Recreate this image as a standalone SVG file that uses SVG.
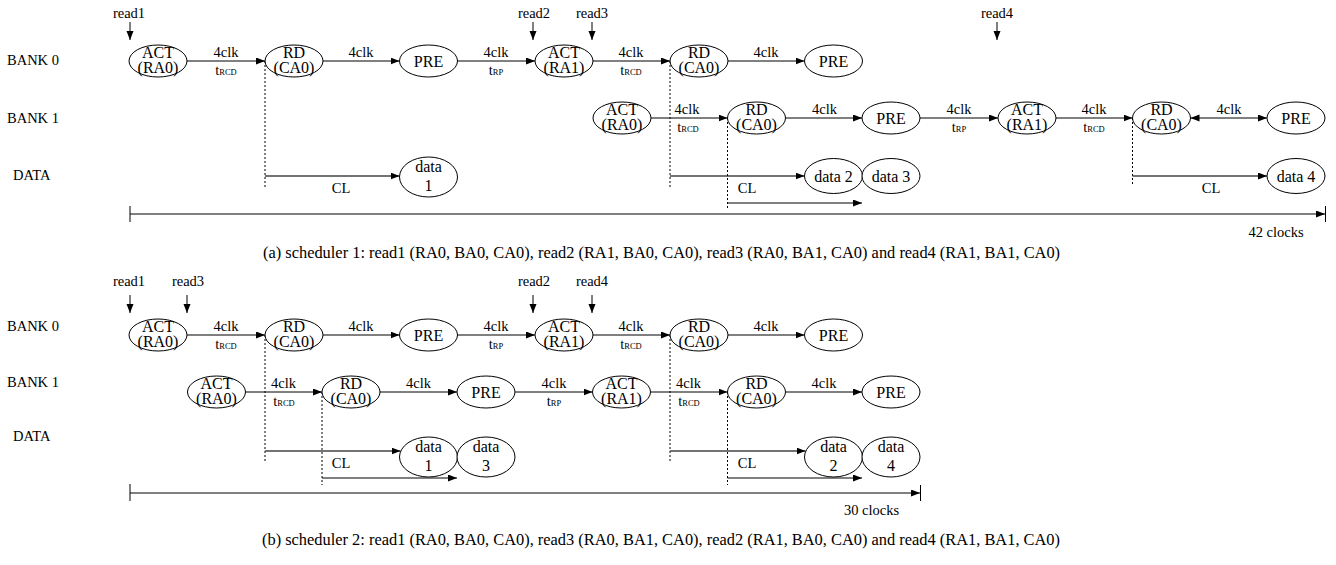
<svg xmlns="http://www.w3.org/2000/svg" width="1336" height="565" viewBox="0 0 1336 565">
<style>
text{font-family:"Liberation Serif","Times New Roman",serif;font-size:14.5px;fill:#000}
.m{text-anchor:middle}
.s{font-size:8.5px}
.cap{font-size:16.4px}
.nd text{font-size:16px}
ellipse{fill:#fff;stroke:#000;stroke-width:1}
.c line{stroke:#000;stroke-width:1;fill:none}
.c .a{marker-end:url(#ah)}
.c .d{stroke-dasharray:2,2}
.c .g{stroke:#444;stroke-width:1.3}
.c .b{marker-start:url(#ah);marker-end:url(#ah)}
</style>
<defs>
<marker id="ah" markerUnits="userSpaceOnUse" markerWidth="10" markerHeight="8" refX="9" refY="3.5" orient="auto-start-reverse"><path d="M0,0 L9,3.5 L0,7 z" fill="#000"/></marker>
</defs>
<rect width="1336" height="565" fill="#fff"/>

<!-- ===== (a) ===== -->
<g id="a-labels">
<text x="7" y="65">BANK 0</text>
<text x="7" y="123">BANK 1</text>
<text x="13" y="180">DATA</text>
<text class="m" x="129" y="18">read1</text>
<text class="m" x="534" y="18">read2</text>
<text class="m" x="592" y="18">read3</text>
<text class="m" x="997" y="18">read4</text>
<text class="m" x="1276" y="237">42 clocks</text>
<text class="cap" x="263" y="258">(a) scheduler 1: read1 (RA0, BA0, CA0), read2 (RA1, BA0, CA0), read3 (RA0, BA1, CA0) and read4 (RA1, BA1, CA0)</text>
</g>

<g id="a-connectors" class="c">
<line class="a" x1="130" y1="22" x2="130" y2="40"/>
<line class="a" x1="533" y1="22" x2="533" y2="40"/>
<line class="a" x1="592" y1="22" x2="592" y2="40"/>
<line class="a" x1="997" y1="22" x2="997" y2="40"/>
<!-- bank0 -->
<line class="a" x1="187" y1="61" x2="265" y2="61"/>
<line class="a" x1="323" y1="61" x2="399.5" y2="61"/>
<line class="a" x1="457.5" y1="61" x2="535" y2="61"/>
<line class="a" x1="593" y1="61" x2="670" y2="61"/>
<line class="a" x1="728" y1="61" x2="804.5" y2="61"/>
<!-- bank1 -->
<line class="a" x1="651" y1="118" x2="727.5" y2="118"/>
<line class="a" x1="785.5" y1="118" x2="862" y2="118"/>
<line class="a" x1="920" y1="118" x2="998" y2="118"/>
<line class="a" x1="1056" y1="118" x2="1132.5" y2="118"/>
<line class="b" x1="1190.5" y1="118" x2="1267" y2="118"/>
<!-- data -->
<line class="d" x1="265" y1="61" x2="265" y2="188"/>
<line class="a g" x1="265" y1="176" x2="399.5" y2="176"/>
<line class="d" x1="670" y1="61" x2="670" y2="187"/>
<line class="a g" x1="670" y1="176" x2="804.5" y2="176"/>
<line class="d" x1="727.5" y1="118" x2="727.5" y2="208"/>
<line class="a" x1="727.5" y1="203" x2="862" y2="203"/>
<line class="d" x1="1132.5" y1="118" x2="1132.5" y2="185"/>
<line class="a g" x1="1132.5" y1="176" x2="1267" y2="176"/>
<!-- timeline -->
<line class="a" x1="130" y1="214" x2="1325" y2="214"/>
<line x1="130" y1="206" x2="130" y2="222"/>
<line x1="1325.5" y1="206" x2="1325.5" y2="222"/>
</g>

<g id="a-connector-labels">
<text class="m" x="226" y="57">4clk</text><text class="m" x="226" y="75">t<tspan class="s">RCD</tspan></text>
<text class="m" x="361" y="57">4clk</text>
<text class="m" x="496" y="57">4clk</text><text class="m" x="496" y="75">t<tspan class="s">RP</tspan></text>
<text class="m" x="631" y="57">4clk</text><text class="m" x="631" y="75">t<tspan class="s">RCD</tspan></text>
<text class="m" x="766" y="57">4clk</text>
<text class="m" x="687" y="114">4clk</text><text class="m" x="688" y="132">t<tspan class="s">RCD</tspan></text>
<text class="m" x="824.5" y="114">4clk</text>
<text class="m" x="959" y="114">4clk</text><text class="m" x="959" y="132">t<tspan class="s">RP</tspan></text>
<text class="m" x="1094" y="114">4clk</text><text class="m" x="1094" y="132">t<tspan class="s">RCD</tspan></text>
<text class="m" x="1229" y="114">4clk</text>
<text class="m" x="341" y="193">CL</text>
<text class="m" x="747" y="193">CL</text>
<text class="m" x="1211" y="193">CL</text>
</g>

<g id="a-b0-act0" class="nd"><ellipse cx="158" cy="61" rx="29" ry="16"/><text class="m" x="158" y="58">ACT</text><text class="m" x="158" y="73">(RA0)</text></g>
<g id="a-b0-rd0" class="nd"><ellipse cx="294" cy="61" rx="29" ry="16"/><text class="m" x="294" y="58">RD</text><text class="m" x="294" y="73">(CA0)</text></g>
<g id="a-b0-pre0" class="nd"><ellipse cx="428.5" cy="61" rx="29" ry="16"/><text class="m" x="428.5" y="66.5">PRE</text></g>
<g id="a-b0-act1" class="nd"><ellipse cx="564" cy="61" rx="29" ry="16"/><text class="m" x="564" y="58">ACT</text><text class="m" x="564" y="73">(RA1)</text></g>
<g id="a-b0-rd1" class="nd"><ellipse cx="699" cy="61" rx="29" ry="16"/><text class="m" x="699" y="58">RD</text><text class="m" x="699" y="73">(CA0)</text></g>
<g id="a-b0-pre1" class="nd"><ellipse cx="833.5" cy="61" rx="29" ry="16"/><text class="m" x="833.5" y="66.5">PRE</text></g>

<g id="a-b1-act0" class="nd"><ellipse cx="622" cy="118" rx="29" ry="16"/><text class="m" x="622" y="115">ACT</text><text class="m" x="622" y="130">(RA0)</text></g>
<g id="a-b1-rd0" class="nd"><ellipse cx="756.5" cy="118" rx="29" ry="16"/><text class="m" x="756.5" y="115">RD</text><text class="m" x="756.5" y="130">(CA0)</text></g>
<g id="a-b1-pre0" class="nd"><ellipse cx="891" cy="118" rx="29" ry="16"/><text class="m" x="891" y="123.5">PRE</text></g>
<g id="a-b1-act1" class="nd"><ellipse cx="1027" cy="118" rx="29" ry="16"/><text class="m" x="1027" y="115">ACT</text><text class="m" x="1027" y="130">(RA1)</text></g>
<g id="a-b1-rd1" class="nd"><ellipse cx="1161.5" cy="118" rx="29" ry="16"/><text class="m" x="1161.5" y="115">RD</text><text class="m" x="1161.5" y="130">(CA0)</text></g>
<g id="a-b1-pre1" class="nd"><ellipse cx="1296" cy="118" rx="29" ry="16"/><text class="m" x="1296" y="123.5">PRE</text></g>

<g id="a-data1" class="nd"><ellipse cx="428.5" cy="177" rx="29" ry="20"/><text class="m" x="428.5" y="171.5">data</text><text class="m" x="428.5" y="191">1</text></g>
<g id="a-data2" class="nd"><ellipse cx="833.5" cy="176" rx="29" ry="17.5"/><text class="m" x="833.5" y="181.5">data 2</text></g>
<g id="a-data3" class="nd"><ellipse cx="891" cy="176" rx="29" ry="17.5"/><text class="m" x="891" y="181.5">data 3</text></g>
<g id="a-data4" class="nd"><ellipse cx="1296" cy="176" rx="29" ry="17.5"/><text class="m" x="1296" y="181.5">data 4</text></g>

<!-- ===== (b) ===== -->
<g id="b-labels">
<text x="7" y="331">BANK 0</text>
<text x="7" y="387">BANK 1</text>
<text x="13" y="440.5">DATA</text>
<text class="m" x="129" y="286">read1</text>
<text class="m" x="188" y="286">read3</text>
<text class="m" x="534" y="286">read2</text>
<text class="m" x="592" y="286">read4</text>
<text class="m" x="871.5" y="515">30 clocks</text>
<text class="cap" x="262" y="545">(b) scheduler 2: read1 (RA0, BA0, CA0), read3 (RA0, BA1, CA0), read2 (RA1, BA0, CA0) and read4 (RA1, BA1, CA0)</text>
</g>

<g id="b-connectors" class="c">
<line class="a" x1="130" y1="295" x2="130" y2="313"/>
<line class="a" x1="187" y1="295" x2="187" y2="313"/>
<line class="a" x1="533" y1="295" x2="533" y2="313"/>
<line class="a" x1="592" y1="295" x2="592" y2="313"/>
<!-- bank0 -->
<line class="a" x1="187" y1="335" x2="265" y2="335"/>
<line class="a" x1="323" y1="335" x2="399.5" y2="335"/>
<line class="a" x1="457.5" y1="335" x2="535" y2="335"/>
<line class="a" x1="593" y1="335" x2="670" y2="335"/>
<line class="a" x1="728" y1="335" x2="804.5" y2="335"/>
<!-- bank1 -->
<line class="a" x1="245.5" y1="392" x2="322" y2="392"/>
<line class="a" x1="380" y1="392" x2="457" y2="392"/>
<line class="a" x1="515" y1="392" x2="592.5" y2="392"/>
<line class="a" x1="650.5" y1="392" x2="727.5" y2="392"/>
<line class="a" x1="785.5" y1="392" x2="862" y2="392"/>
<!-- data -->
<line class="d" x1="265" y1="335" x2="265" y2="462"/>
<line class="a g" x1="265" y1="451" x2="400.5" y2="451"/>
<line class="d" x1="322" y1="392" x2="322" y2="485"/>
<line class="a" x1="322" y1="478" x2="457" y2="478"/>
<line class="d" x1="670" y1="335" x2="670" y2="462"/>
<line class="a g" x1="670" y1="451" x2="805.5" y2="451"/>
<line class="d" x1="727.5" y1="392" x2="727.5" y2="485"/>
<line class="a" x1="727.5" y1="478" x2="862" y2="478"/>
<!-- timeline -->
<line class="a" x1="130" y1="493" x2="920" y2="493"/>
<line x1="130" y1="484" x2="130" y2="501"/>
<line x1="920.5" y1="485" x2="920.5" y2="501"/>
</g>

<g id="b-connector-labels">
<text class="m" x="226" y="331">4clk</text><text class="m" x="226" y="349">t<tspan class="s">RCD</tspan></text>
<text class="m" x="361" y="331">4clk</text>
<text class="m" x="496" y="331">4clk</text><text class="m" x="496" y="349">t<tspan class="s">RP</tspan></text>
<text class="m" x="631" y="331">4clk</text><text class="m" x="631" y="349">t<tspan class="s">RCD</tspan></text>
<text class="m" x="766" y="331">4clk</text>
<text class="m" x="283.5" y="388">4clk</text><text class="m" x="284" y="406">t<tspan class="s">RCD</tspan></text>
<text class="m" x="418.5" y="388">4clk</text>
<text class="m" x="554" y="388">4clk</text><text class="m" x="554" y="406">t<tspan class="s">RP</tspan></text>
<text class="m" x="688.5" y="388">4clk</text><text class="m" x="689" y="406">t<tspan class="s">RCD</tspan></text>
<text class="m" x="824" y="388">4clk</text>
<text class="m" x="341" y="468">CL</text>
<text class="m" x="747" y="468">CL</text>
</g>

<g id="b-b0-act0" class="nd"><ellipse cx="158" cy="335" rx="29" ry="16"/><text class="m" x="158" y="332">ACT</text><text class="m" x="158" y="347">(RA0)</text></g>
<g id="b-b0-rd0" class="nd"><ellipse cx="294" cy="335" rx="29" ry="16"/><text class="m" x="294" y="332">RD</text><text class="m" x="294" y="347">(CA0)</text></g>
<g id="b-b0-pre0" class="nd"><ellipse cx="428.5" cy="335" rx="29" ry="16"/><text class="m" x="428.5" y="340.5">PRE</text></g>
<g id="b-b0-act1" class="nd"><ellipse cx="564" cy="335" rx="29" ry="16"/><text class="m" x="564" y="332">ACT</text><text class="m" x="564" y="347">(RA1)</text></g>
<g id="b-b0-rd1" class="nd"><ellipse cx="699" cy="335" rx="29" ry="16"/><text class="m" x="699" y="332">RD</text><text class="m" x="699" y="347">(CA0)</text></g>
<g id="b-b0-pre1" class="nd"><ellipse cx="833.5" cy="335" rx="29" ry="16"/><text class="m" x="833.5" y="340.5">PRE</text></g>

<g id="b-b1-act0" class="nd"><ellipse cx="216.5" cy="392" rx="29" ry="16"/><text class="m" x="216.5" y="389">ACT</text><text class="m" x="216.5" y="404">(RA0)</text></g>
<g id="b-b1-rd0" class="nd"><ellipse cx="351" cy="392" rx="29" ry="16"/><text class="m" x="351" y="389">RD</text><text class="m" x="351" y="404">(CA0)</text></g>
<g id="b-b1-pre0" class="nd"><ellipse cx="486" cy="392" rx="29" ry="16"/><text class="m" x="486" y="397.5">PRE</text></g>
<g id="b-b1-act1" class="nd"><ellipse cx="621.5" cy="392" rx="29" ry="16"/><text class="m" x="621.5" y="389">ACT</text><text class="m" x="621.5" y="404">(RA1)</text></g>
<g id="b-b1-rd1" class="nd"><ellipse cx="756.5" cy="392" rx="29" ry="16"/><text class="m" x="756.5" y="389">RD</text><text class="m" x="756.5" y="404">(CA0)</text></g>
<g id="b-b1-pre1" class="nd"><ellipse cx="891" cy="392" rx="29" ry="16"/><text class="m" x="891" y="397.5">PRE</text></g>

<g id="b-data1" class="nd"><ellipse cx="428.5" cy="457" rx="29" ry="20"/><text class="m" x="428.5" y="451.5">data</text><text class="m" x="428.5" y="470.5">1</text></g>
<g id="b-data3" class="nd"><ellipse cx="486" cy="457" rx="29" ry="20"/><text class="m" x="486" y="451.5">data</text><text class="m" x="486" y="470.5">3</text></g>
<g id="b-data2" class="nd"><ellipse cx="833.5" cy="457" rx="29" ry="20"/><text class="m" x="833.5" y="451.5">data</text><text class="m" x="833.5" y="470.5">2</text></g>
<g id="b-data4" class="nd"><ellipse cx="891" cy="457" rx="29" ry="20"/><text class="m" x="891" y="451.5">data</text><text class="m" x="891" y="470.5">4</text></g>
</svg>
